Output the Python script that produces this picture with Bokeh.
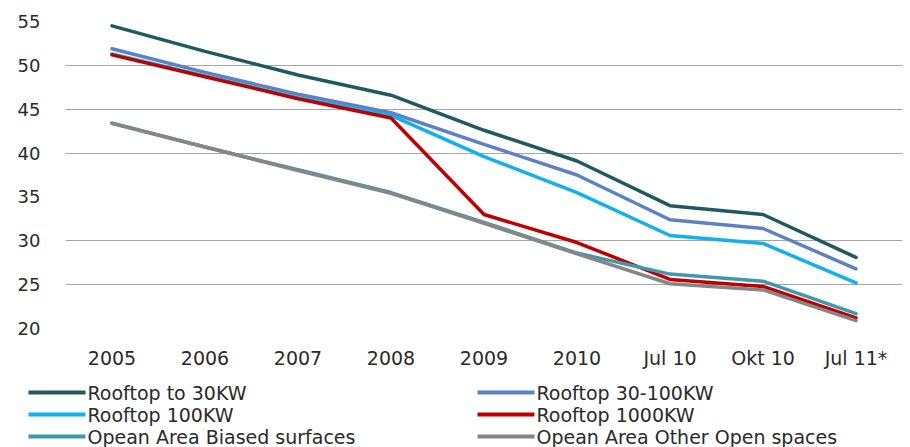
from bokeh.plotting import figure
from bokeh.layouts import column
from bokeh.models import FixedTicker, FactorRange, Range1d
from bokeh.core.properties import value
from bokeh.embed import file_html
from bokeh.resources import INLINE

# Periods on the x axis
periods = ["2005", "2006", "2007", "2008", "2009", "2010", "Jul 10", "Okt 10", "Jul 11*"]

# Feed-in tariff values per installation type
rooftop_to_30 = [54.5, 51.6, 48.9, 46.6, 42.6, 39.1, 34.0, 33.0, 28.1]
rooftop_30_100 = [51.9, 49.2, 46.7, 44.6, 41.0, 37.5, 32.4, 31.4, 26.8]
rooftop_100 = [51.3, 48.8, 46.3, 44.3, 39.6, 35.5, 30.6, 29.7, 25.2]
rooftop_1000 = [51.2, 48.7, 46.2, 44.0, 33.0, 29.8, 25.6, 24.8, 21.2]
open_biased = [43.4, 40.7, 38.1, 35.5, 32.1, 28.6, 26.2, 25.4, 21.7]
open_other = [43.4, 40.7, 38.0, 35.4, 32.0, 28.5, 25.1, 24.4, 20.9]

series_names = [
    "Rooftop to 30KW",
    "Rooftop 30-100KW",
    "Rooftop 100KW",
    "Rooftop 1000KW",
    "Opean Area Biased surfaces",
    "Opean Area Other Open spaces",
]
series_values = [rooftop_to_30, rooftop_30_100, rooftop_100, rooftop_1000, open_biased, open_other]
series_colors = ["#1f5a60", "#5b82c2", "#12b0ec", "#c00000", "#3f99ad", "#868686"]

y_ticks = [20, 25, 30, 35, 40, 45, 50, 55]
grid_ticks = [20, 25, 30, 40, 45, 50, 55]

TEXT = "#2a2a2a"
FONT = "DejaVu Sans"
W = 910
CHART_H = 380
LEGEND_H = 67
LINE_W = 3.5

# ---- main chart ----
p = figure(
    width=W, height=CHART_H,
    x_range=FactorRange(*periods),
    y_range=Range1d(20, 55),
    output_backend="svg", toolbar_location=None,
    min_border_left=65, min_border_right=8,
    min_border_top=21, min_border_bottom=CHART_H - 328,
)
p.frame_align = False
p.outline_line_color = None
p.background_fill_color = "white"
p.border_fill_color = "white"

p.xgrid.grid_line_color = None
p.ygrid.ticker = FixedTicker(ticks=grid_ticks)
p.ygrid.grid_line_color = "#a6a6a6"
p.ygrid.grid_line_width = 1

p.yaxis.ticker = FixedTicker(ticks=y_ticks)
for ax in (p.xaxis[0], p.yaxis[0]):
    ax.axis_line_color = None
    ax.major_tick_line_color = None
    ax.minor_tick_line_color = None
    ax.major_tick_in = 0
    ax.major_tick_out = 0
    ax.major_label_text_font = FONT
    ax.major_label_text_color = TEXT
p.yaxis.major_label_text_font_size = "18px"
p.xaxis.major_label_text_font_size = "19px"
p.yaxis.major_label_standoff = 25
p.xaxis.major_label_standoff = 18

for vals, col in zip(series_values, series_colors):
    p.line(x=periods, y=vals, line_color=col, line_width=LINE_W,
           line_join="round", line_cap="round")

# ---- legend strip underneath (pixel-like coordinates, y grows downward) ----
lp = figure(
    width=W, height=LEGEND_H,
    x_range=Range1d(0, W), y_range=Range1d(LEGEND_H, 0),
    x_axis_type=None, y_axis_type=None,
    output_backend="svg", toolbar_location=None,
    min_border_left=0, min_border_right=0, min_border_top=0, min_border_bottom=0,
)
lp.frame_align = False
lp.outline_line_color = None
lp.grid.visible = False
lp.border_fill_color = "white"
lp.background_fill_color = "white"

key_len = 57
col_x = [28, 477]
row_y = [12, 34, 56]
kx0, kx1, ky, tx, ty = [], [], [], [], []
for i in range(len(series_names)):
    cx = col_x[i % 2]
    ry = row_y[i // 2]
    kx0.append(cx)
    kx1.append(cx + key_len)
    ky.append(ry)
    tx.append(cx + key_len + 2)
    ty.append(ry)

lp.segment(x0=kx0, y0=ky, x1=kx1, y1=ky, line_color=series_colors, line_width=4)
lp.text(x=tx, y=ty, text=series_names, text_font=value(FONT), text_font_size="19px",
        text_color=TEXT, text_baseline="middle", text_align="left")

page = column(p, lp, spacing=0)
open("out.html", "w").write(file_html(page, INLINE))
